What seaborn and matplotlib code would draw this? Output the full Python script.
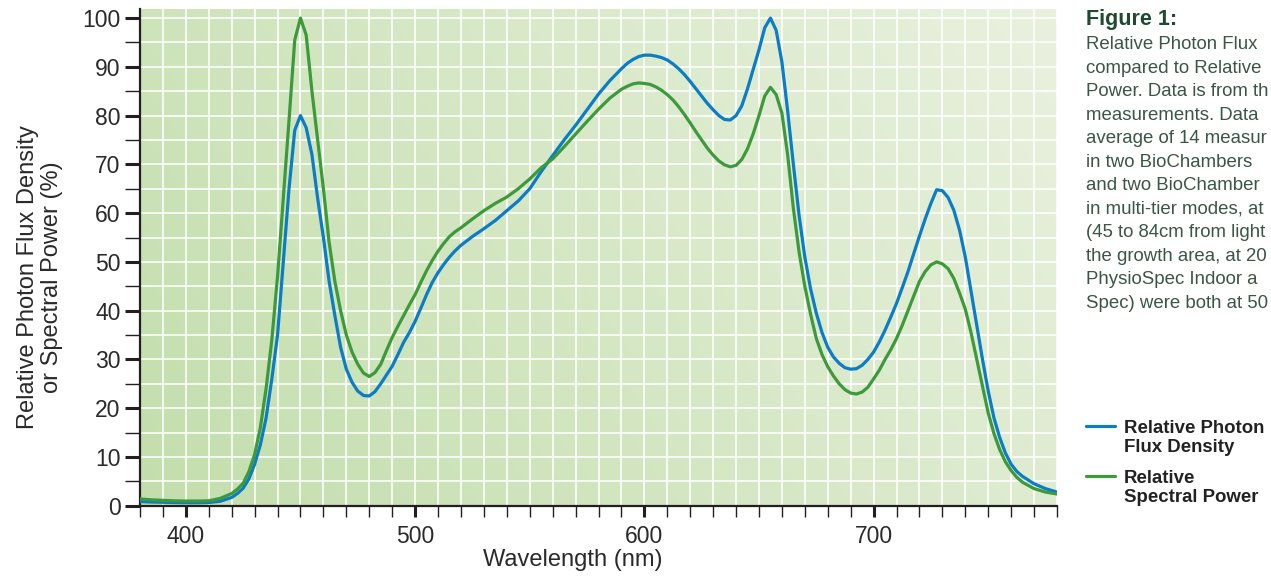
import numpy as np
import pandas as pd
import matplotlib
matplotlib.use("Agg")
import matplotlib.pyplot as plt
import seaborn as sns
from matplotlib.lines import Line2D
from matplotlib.ticker import MultipleLocator
from matplotlib.colors import LinearSegmentedColormap

# ---------------- data ----------------
wavelength = [380, 385, 390, 395, 400, 405, 410, 415,
              420, 422.5, 425, 427.5, 430, 432.5, 435, 437.5, 440, 442.5, 445, 447.5,
              450, 452.5, 455, 457.5, 460, 462.5, 465, 467.5, 470, 472.5, 475, 477.5,
              480, 482.5, 485, 487.5, 490, 492.5, 495, 497.5, 500, 502.5, 505, 507.5,
              510, 512.5, 515, 517.5,
              520, 525, 530, 535, 540, 545, 550, 555, 560, 565, 570, 575,
              580, 585, 590, 592.5, 595, 597.5, 600, 602.5, 605, 607.5, 610, 612.5,
              615, 617.5, 620, 622.5, 625, 627.5, 630, 632.5, 635, 637.5, 640, 642.5,
              645, 647.5, 650, 652.5, 655, 657.5, 660, 662.5, 665, 667.5, 670, 672.5,
              675, 677.5, 680, 682.5, 685, 687.5, 690, 692.5, 695, 697.5,
              700, 702.5, 705, 707.5, 710, 712.5, 715, 717.5, 720, 722.5, 725, 727.5,
              730, 732.5, 735, 737.5, 740, 742.5, 745, 747.5, 750, 752.5, 755, 757.5,
              760, 762.5, 765,
              770, 775, 780]

photon_flux = [0.85, 0.75, 0.7, 0.65, 0.6, 0.6, 0.65, 0.9,
               1.7, 2.5, 3.6, 5.5, 8.5, 12.5, 18, 26, 35, 50, 65, 77,
               80, 77.5, 72, 63, 55, 46, 39, 32.5, 28, 25.3, 23.5, 22.6,
               22.5, 23.4, 25, 26.8, 28.6, 31, 33.5, 35.5, 37.8, 40.5, 43.3, 45.8,
               47.8, 49.5, 51, 52.3,
               53.4, 55.2, 56.8, 58.5, 60.5, 62.5, 65, 68.5, 71.8, 75, 78, 81.2,
               84.4, 87.2, 89.6, 90.7, 91.5, 92.1, 92.4, 92.4, 92.2, 91.9, 91.4, 90.6,
               89.6, 88.4, 87, 85.5, 84, 82.5, 81.2, 80, 79.2, 79.1, 80, 82,
               85.5, 89.5, 93.5, 98, 100, 97.5, 91, 81, 70, 59.5, 51, 44.5,
               39.5, 35.5, 32.5, 30.5, 29.2, 28.3, 28, 28.1, 28.8, 30,
               31.5, 33.6, 36, 38.7, 41.5, 44.7, 48, 51.7, 55.3, 58.8, 62, 64.8,
               64.6, 63.2, 60.6, 56.5, 51, 44, 37, 30, 23.5, 18, 14, 10.8,
               8.5, 7, 6,
               4.5, 3.5, 2.8]

spectral_power = [1.4, 1.2, 1.1, 1.0, 0.95, 0.95, 1.0, 1.5,
                  2.5, 3.4, 4.6, 7.0, 10.5, 16, 24, 34, 47, 63, 79, 95.5,
                  100, 96.5, 85, 75, 65, 54, 46, 40, 35, 31.5, 29, 27.2,
                  26.5, 27.3, 29, 31.8, 34.5, 36.8, 39, 41.2, 43.3, 45.8, 48.2, 50.3,
                  52.2, 53.8, 55.2, 56.2,
                  57, 58.8, 60.5, 62, 63.3, 65, 67, 69.3, 71.1, 73.6, 76.2, 78.8,
                  81.3, 83.6, 85.4, 86, 86.5, 86.7, 86.6, 86.4, 85.9, 85.2, 84.3, 83.2,
                  81.8, 80.2, 78.5, 76.7, 75, 73.3, 71.9, 70.7, 69.9, 69.5, 69.8, 71,
                  73.2, 76.3, 80, 84, 85.8, 84.3, 80.5, 72, 61, 52, 45, 39.3,
                  34.3, 31, 28.5, 26.6, 25, 23.8, 23.1, 22.9, 23.3, 24.3,
                  26, 27.8, 30, 32, 34.3, 37, 40, 43, 46, 48, 49.4, 50,
                  49.6, 48.6, 46.6, 43.6, 40.3, 35.5, 30, 24.5, 19, 14.8, 11.5, 9,
                  7.2, 5.8, 4.8,
                  3.5, 2.8, 2.4]

series_names = ["Relative Photon Flux Density", "Relative Spectral Power"]
legend_labels = [["Relative Photon", "Flux Density"], ["Relative", "Spectral Power"]]
x_label = "Wavelength (nm)"
y_label = "Relative Photon Flux Density\nor Spectral Power (%)"
caption_title = "Figure 1:"
# caption as visible in the reference (it runs off the right edge there)
caption_lines = [
    "Relative Photon Flux",
    "compared to Relative",
    "Power. Data is from th",
    "measurements. Data",
    "average of 14 measur",
    "in two BioChambers",
    "and two BioChamber",
    "in multi-tier modes, at",
    "(45 to 84cm from light",
    "the growth area, at 20",
    "PhysioSpec Indoor a",
    "Spec) were both at 50",
]

assert len(wavelength) == len(photon_flux) == len(spectral_power)

colors = {series_names[0]: "#0b7cc6", series_names[1]: "#3c9a3b"}

df = pd.DataFrame({
    "wavelength": wavelength * 2,
    "value": photon_flux + spectral_power,
    "series": [series_names[0]] * len(wavelength) + [series_names[1]] * len(wavelength),
})

# ---------------- figure ----------------
sns.set_theme(style="white")
plt.rcParams["font.family"] = ["Liberation Sans", "DejaVu Sans"]

W, H = 1271, 580
fig = plt.figure(figsize=(W / 100, H / 100), dpi=100)
ax = fig.add_axes([140 / W, 1 - 505.7 / H, 917 / W, 496.4 / H])

# gradient background
cmap = LinearSegmentedColormap.from_list("bg", ["#c3deac", "#e9f1de"])
gx, gy = np.meshgrid(np.linspace(0, 1, 200), np.linspace(0, 1, 100))
grad = 0.72 * gx + 0.28 * gy
ax.imshow(grad, extent=[0, 1, 0, 1], transform=ax.transAxes, cmap=cmap,
          aspect="auto", origin="lower", zorder=0.1, interpolation="bilinear")

sns.lineplot(data=df, x="wavelength", y="value", hue="series", palette=colors,
             linewidth=2.3, legend=False, ax=ax, zorder=3)
for ln in ax.get_lines():
    ln.set_solid_joinstyle("round")

ax.set_xlim(380, 780)
ax.set_ylim(0, 101.8)

ax.xaxis.set_major_locator(MultipleLocator(100))
ax.xaxis.set_minor_locator(MultipleLocator(10))
ax.yaxis.set_major_locator(MultipleLocator(10))
ax.yaxis.set_minor_locator(MultipleLocator(5))

ax.set_axisbelow(True)
ax.grid(which="both", color="white", linewidth=1.2, alpha=0.95)

tick_col = "#231f20"
ax.tick_params(axis="both", which="both", direction="out", colors=tick_col,
               bottom=True, left=True, top=False, right=False)
ax.tick_params(axis="y", which="major", length=11, width=2.2, labelsize=16.5, pad=3,
               labelcolor="#2a2a2a")
ax.tick_params(axis="y", which="minor", length=11, width=1.0)
ax.tick_params(axis="x", which="major", length=8, width=2.2, labelsize=16.5, pad=6,
               labelcolor="#2a2a2a")
ax.tick_params(axis="x", which="minor", length=8, width=1.0)

for side in ["top", "right"]:
    ax.spines[side].set_visible(False)
for side in ["left", "bottom"]:
    ax.spines[side].set_color(tick_col)
    ax.spines[side].set_linewidth(1.6)

ax.set_xlabel(x_label, fontsize=17, color="#2a2a2a")
ax.xaxis.set_label_coords(0.472, -0.088)
ax.set_ylabel(y_label, fontsize=17, color="#2a2a2a", linespacing=1.12)
ax.yaxis.set_label_coords(-0.084, 0.461)

# caption
fig.text(1086 / W, 1 - 25 / H, caption_title, fontsize=15.5, fontweight="bold",
         color="#1d4a30", va="baseline", ha="left")
for i, line in enumerate(caption_lines):
    fig.text(1086 / W, 1 - (49.3 + 23.5 * i) / H, line, fontsize=13.4,
             color="#3b5546", va="baseline", ha="left")

# legend (manual, handles aligned with the first text line)
for k, (name, lines) in enumerate(zip(series_names, legend_labels)):
    y_handle = [426, 476][k]
    y_base = [433, 483][k]
    fig.add_artist(Line2D([1086 / W, 1115 / W], [1 - y_handle / H] * 2,
                          transform=fig.transFigure, color=colors[name], linewidth=2.3))
    for j, t in enumerate(lines):
        fig.text(1124 / W, 1 - (y_base + 19.5 * j) / H, t, fontsize=13.4,
                 fontweight="bold", color="#222222", va="baseline", ha="left")

fig.savefig("out.png", dpi=100)
